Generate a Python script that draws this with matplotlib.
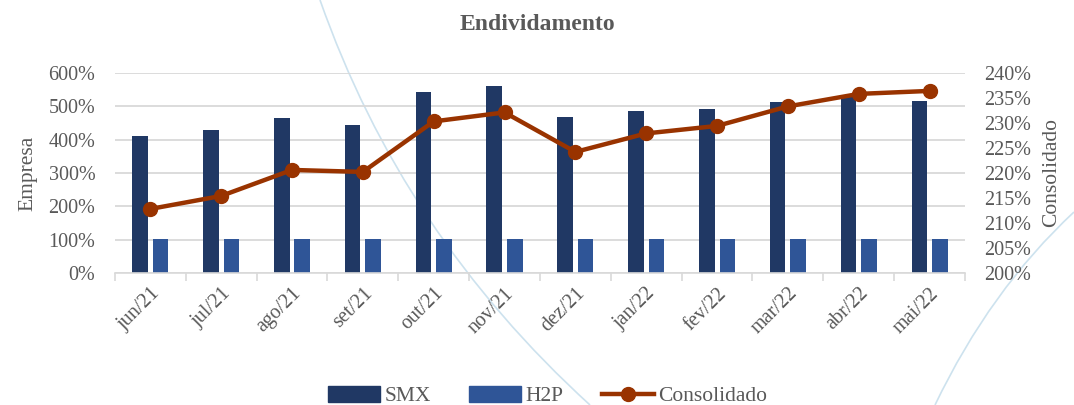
import matplotlib.pyplot as plt
import numpy as np
from matplotlib.lines import Line2D
from matplotlib.path import Path
from matplotlib.patches import PathPatch

plt.rcParams['font.family'] = ['Liberation Serif', 'DejaVu Serif']

meses = ['jun/21', 'jul/21', 'ago/21', 'set/21', 'out/21', 'nov/21',
         'dez/21', 'jan/22', 'fev/22', 'mar/22', 'abr/22', 'mai/22']
smx = [411, 428, 465, 445, 544, 562, 468, 486, 491, 514, 530, 516]
h2p = [102, 102, 102, 102, 102, 102, 102, 102, 102, 102, 102, 102]
consolidado = [212.8, 215.4, 220.6, 220.2, 230.3, 232.1,
               224.2, 227.9, 229.4, 233.3, 235.8, 236.4]

cinza = '#595959'
W, H = 1074, 405
fig = plt.figure(figsize=(W / 100, H / 100), dpi=100)


def curva(p0, c, p1):
    # quadratic bezier in pixel coordinates (y down) for the background swooshes
    pts = [(px / W, 1 - py / H) for px, py in (p0, c, p1)]
    path = Path(pts, [Path.MOVETO, Path.CURVE3, Path.CURVE3])
    fig.add_artist(PathPatch(path, transform=fig.transFigure, fill=False,
                             edgecolor='#cde2ee', lw=1.2, zorder=0))


curva((320, 0), (402, 234), (590, 405))
curva((1074, 212), (990, 290), (935, 405))

ax = fig.add_axes([0.107, 0.326, 0.7915, 0.494])
ax.patch.set_alpha(0)
x = np.arange(len(meses))
ax.bar(x - 0.145, smx, 0.22, color='#203864', label='SMX', zorder=2)
ax.bar(x + 0.145, h2p, 0.22, color='#2f5597', label='H2P', zorder=2)
ax.set_xlim(-0.5, len(meses) - 0.5)
ax.set_ylim(0, 600)
ax.set_yticks(range(0, 601, 100))
ax.set_yticklabels([f'{v}%' for v in range(0, 601, 100)])
ax.yaxis.grid(True, color='#d9d9d9', lw=1.3, zorder=0)
ax.set_axisbelow(True)
ax.set_xticks(x)
ax.set_xticklabels(meses, rotation=45, ha='right', rotation_mode='anchor')
ax.set_xticks(np.arange(-0.5, len(meses)), minor=True)
ax.tick_params(axis='x', which='major', length=0, pad=8)
ax.tick_params(axis='x', which='minor', length=6, color='#d9d9d9', width=1.2)
ax.tick_params(axis='y', length=0, pad=14)
ax.tick_params(colors=cinza, labelsize=14.5)
for s in ['top', 'left', 'right']:
    ax.spines[s].set_visible(False)
ax.spines['bottom'].set_color('#d9d9d9')
ax.spines['bottom'].set_linewidth(1.2)
ax.set_ylabel('Empresa', color=cinza, fontsize=15.5, labelpad=8)

ax2 = ax.twinx()
ax2.plot(x, consolidado, color='#993300', lw=3.2, marker='o', markersize=10,
         label='Consolidado', zorder=3)
ax2.set_ylim(200, 240)
ax2.set_yticks(range(200, 241, 5))
ax2.set_yticklabels([f'{v}%' for v in range(200, 241, 5)])
ax2.tick_params(axis='y', length=0, pad=14, colors=cinza, labelsize=14.5)
for s in ax2.spines.values():
    s.set_visible(False)
ax2.set_ylabel('Consolidado', color=cinza, fontsize=15.5, labelpad=8)

fig.suptitle('Endividamento', x=0.5, y=0.965, fontsize=17, fontweight='bold', color=cinza)

handles = [plt.Rectangle((0, 0), 1, 1, color='#203864'),
           plt.Rectangle((0, 0), 1, 1, color='#2f5597'),
           Line2D([], [], color='#993300', lw=3.2, marker='o', markersize=10)]
fig.legend(handles, ['SMX', 'H2P', 'Consolidado'], loc='center', ncol=3,
           bbox_to_anchor=(0.51, 0.022), frameon=False, fontsize=15.5,
           handlelength=2.4, handleheight=0.8, columnspacing=1.8, handletextpad=0.2,
           labelcolor=cinza)

fig.savefig('out.png', dpi=100)
